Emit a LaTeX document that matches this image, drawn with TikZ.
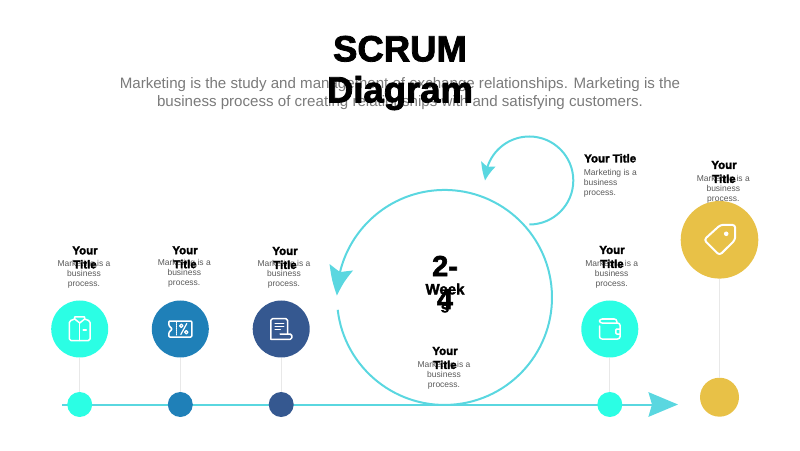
\documentclass[tikz,border=0pt]{standalone}
\usepackage{fontspec}
\setmainfont{Liberation Sans}
\newfontfamily\heavyfont{Liberation Sans Bold}[FakeBold=2.2]
\usetikzlibrary{arrows.meta,bending}

\definecolor{linecyan}{HTML}{5AD7E0}
\definecolor{turquoise}{HTML}{2BFEE4}
\definecolor{oceanblue}{HTML}{1F80B8}
\definecolor{navyblue}{HTML}{355890}
\definecolor{goldtone}{HTML}{E8C147}
\definecolor{stemgray}{HTML}{E8E8E8}

\tikzstyle{headline} = [align=center, font=\heavyfont\fontsize{36.5}{41}\selectfont]
\tikzstyle{subline} = [align=center, text=black!52, font=\fontsize{15.1}{18}\selectfont]
\tikzstyle{cardtitle} = [align=center, inner sep=0pt, font=\heavyfont\fontsize{11.5}{14}\selectfont]
\tikzstyle{cardtext} = [align=center, inner sep=0pt, text=black!65, font=\fontsize{8.5}{10}\selectfont]
\tikzstyle{stepdot} = [circle, inner sep=0pt, minimum size=25pt]
\tikzstyle{stepdisc} = [circle, inner sep=0pt, minimum size=57pt]
\tikzstyle{stem} = [stemgray, line width=1.3pt]
\tikzstyle{arrow} = [linecyan, line width=2pt]
\tikzstyle{icon} = [white, line width=1.5pt, line join=round, line cap=round]

\begin{document}
\begin{tikzpicture}[x=1pt, y=1pt, node distance=75.5pt]
	\useasboundingbox (0,0) rectangle (800,450);
	% Place header
	\node [subline] (subtitle) at (400,356.3) {Marketing is the study and management of exchange relationships. Marketing is the\\business process of creating relationships with and satisfying customers.};
	\node [headline] (title) at (400,377) {SCRUM\\Diagram};
	% Draw timeline and loops
	\coordinate (linestart) at (62,45.5);
	\coordinate (lineend) at (678,45.5);
	\coordinate (ringstart) at (337.7,140.2);
	\coordinate (loopstart) at (529.3,225.5);
	\draw [arrow, -{Stealth[length=29.5pt, width=24.5pt, inset=3.5pt]}] (linestart) -- (lineend);
	\draw [arrow, -{Stealth[length=29pt, width=24pt, inset=5pt, bend]}] (ringstart) arc [start angle=186.6, end angle=539, radius=107.5];
	\draw [arrow, -{Stealth[length=17pt, width=15pt, inset=3pt, bend]}] (loopstart) arc [start angle=270, end angle=540, radius=44];
	% Place dots and discs
	\node [stepdot, fill=turquoise] (dotA) at (79.7,45.5) {};
	\node [stepdot, fill=oceanblue] (dotB) at (180.3,45.5) {};
	\node [stepdot, fill=navyblue] (dotC) at (281.2,45.5) {};
	\node [stepdot, fill=turquoise] (dotD) at (609.8,45.5) {};
	\node [stepdot, fill=goldtone, minimum size=39pt] (dotE) at (719.5,52.8) {};
	\node [stepdisc, fill=turquoise, above of=dotA] (discA) {};
	\node [stepdisc, fill=oceanblue, above of=dotB] (discB) {};
	\node [stepdisc, fill=navyblue, above of=dotC] (discC) {};
	\node [stepdisc, fill=turquoise, above of=dotD] (discD) {};
	\node [stepdisc, fill=goldtone, minimum size=77.6pt] (discE) at (719.5,210.2) {};
	% Draw stems
	\draw [stem] (discA) -- (dotA);
	\draw [stem] (discB) -- (dotB);
	\draw [stem] (discC) -- (dotC);
	\draw [stem] (discD) -- (dotD);
	\draw [stem] (discE) -- (dotE);
	% Draw icons
	\begin{scope}[shift={(discA.center)}]
		\draw [icon, rounded corners=1.5pt] (-5,10) -- (-10.3,8) -- (-10.3,-11.5) -- (10.3,-11.5) -- (10.3,8) -- (5,10);
		\draw [icon] (-5,10) -- (-5,12) -- (5,12) -- (5,10) -- (0,6) -- cycle;
		\draw [icon] (0,6) -- (0,-11.5) (3.5,-1) -- (6.5,-1);
	\end{scope}
	\begin{scope}[shift={(discB.center)}]
		\draw [icon, rounded corners=1pt] (-11.5,8) -- (11.5,8) -- (11.5,-8) -- (-11.5,-8) -- (-11.5,-3.5) -- (-8,0) -- (-11.5,3.5) -- cycle;
		\draw [icon, line width=1pt, densely dotted] (-3.5,7) -- (-3.5,-7);
		\draw [icon, line width=1.2pt] (6.5,5.5) -- (0.5,-5.5);
		\draw [icon, line width=1.2pt] (1,3.2) circle (1.7) (6,-3.2) circle (1.7);
	\end{scope}
	\begin{scope}[shift={(discC.center)}]
		\draw [icon, rounded corners=1.5pt] (-10.3,-10) -- (-10.3,10.3) -- (6.3,10.3) -- (6.3,-5);
		\draw [icon, rounded corners=1.5pt] (-1,-5) -- (10.6,-5) -- (10.6,-10.3) -- (-10.3,-10.3);
		\draw [icon] (-6,5.5) -- (2.5,5.5) (-6,2.5) -- (2.5,2.5) (-6,-0.5) -- (-1,-0.5);
	\end{scope}
	\begin{scope}[shift={(discD.center)}]
		\draw [icon, rounded corners=2.5pt] (-10.3,3) -- (-10.3,-10) -- (10.3,-10) -- (10.3,6) -- (-10.3,6) -- (-10.3,10) -- (7,10) -- (7,6);
		\draw [icon, rounded corners=1pt] (10.3,0) -- (6,0) -- (6,-5) -- (10.3,-5);
	\end{scope}
	\begin{scope}[shift={(discE.center)}]
		\draw [icon, line width=2pt, rounded corners=3pt] (15.7,15) -- (1,15) -- (-15.5,0) -- (0,-15.5) -- (15.7,0) -- cycle;
		\fill [white] (6.7,6) circle (2.3);
	\end{scope}
	% Place center label
	\node [align=center, font=\heavyfont\fontsize{29}{33}\selectfont] (weeksnum) at (445,167.5) {2-\\4};
	\node [align=center, font=\heavyfont\fontsize{15}{18}\selectfont] (weeksword) at (445,152) {Week\\s};
	% Place cards
	\node [cardtext] (textA) at (84,176) {Marketing is a\\business\\process.};
	\node [cardtitle] (titleA) at (85,192.5) {Your\\Title};
	\node [cardtext] (textB) at (184.3,176.3) {Marketing is a\\business\\process.};
	\node [cardtitle] (titleB) at (185,192.7) {Your\\Title};
	\node [cardtext] (textC) at (284,175.7) {Marketing is a\\business\\process.};
	\node [cardtitle] (titleC) at (285,192) {Your\\Title};
	\node [cardtext] (textD) at (611.7,176) {Marketing is a\\business\\process.};
	\node [cardtitle] (titleD) at (612,193) {Your\\Title};
	\node [cardtext] (textE) at (723.3,261) {Marketing is a\\business\\process.};
	\node [cardtitle] (titleE) at (724,278) {Your\\Title};
	\node [cardtext] (textF) at (444,75) {Marketing is a\\business\\process.};
	\node [cardtitle] (titleF) at (445,92) {Your\\Title};
	\node [cardtext, anchor=west, align=left] (textG) at (583.7,267) {Marketing is a\\business\\process.};
	\node [cardtitle, anchor=west] (titleG) at (584,291.7) {Your Title};
\end{tikzpicture}
\end{document}
